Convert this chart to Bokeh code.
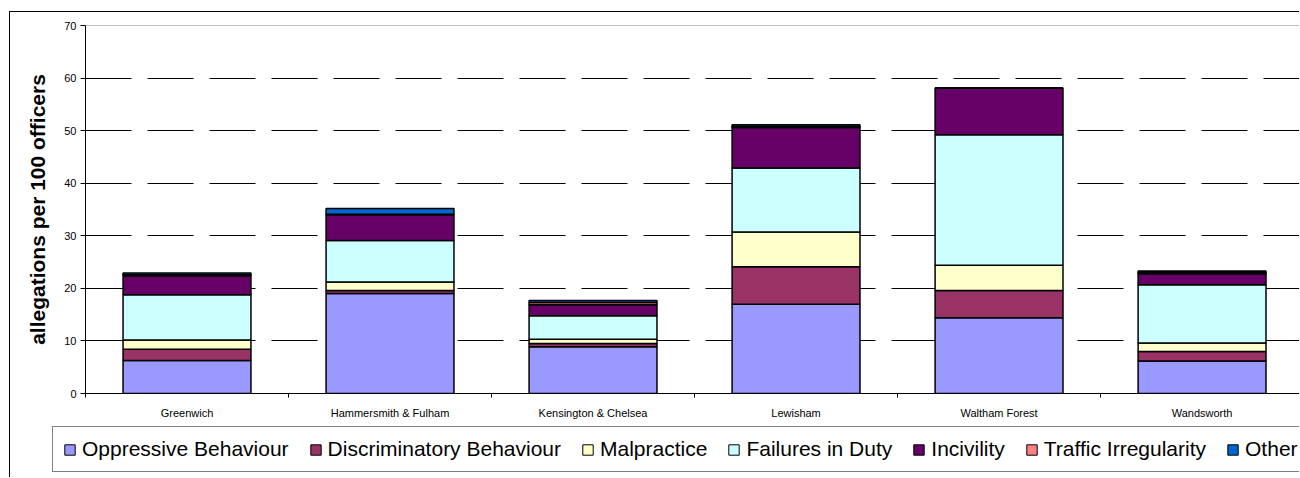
from bokeh.plotting import figure
from bokeh.layouts import column, row
from bokeh.models import (ColumnDataSource, Range1d, FixedTicker, Legend, LegendItem, Span)
from bokeh.embed import file_html
from bokeh.resources import INLINE

categories = ["Greenwich", "Hammersmith & Fulham", "Kensington & Chelsea",
              "Lewisham", "Waltham Forest", "Wandsworth"]
series = ["Oppressive Behaviour", "Discriminatory Behaviour", "Malpractice",
          "Failures in Duty", "Incivility", "Traffic Irregularity", "Other"]
oppressive = [6.3, 19.0, 8.9, 17.0, 14.4, 6.2]
discriminatory = [2.1, 0.6, 0.6, 7.1, 5.2, 1.8]
malpractice = [1.8, 1.6, 0.8, 6.6, 4.8, 1.6]
failures = [8.6, 7.9, 4.5, 12.2, 24.8, 11.1]
incivility = [3.6, 4.9, 2.1, 7.7, 8.9, 2.1]
traffic = [0.2, 0.1, 0.4, 0.2, 0.0, 0.2]
other = [0.3, 1.1, 0.4, 0.3, 0.0, 0.3]
colors = ["#9999FF", "#993366", "#FFFFCC", "#CCFFFF", "#660066", "#FF8080", "#0066CC"]
y_ticks = [0, 10, 20, 30, 40, 50, 60, 70]

FONT = "Liberation Sans"
n = len(categories)
centers = [i + 0.5 for i in range(n)]
bounds = [float(i) for i in range(n + 1)]

data = {"x": centers}
for name, vals in zip(series, [oppressive, discriminatory, malpractice, failures,
                               incivility, traffic, other]):
    data[name] = vals
source = ColumnDataSource(data)

W = 1289
p = figure(width=W, height=411, output_backend="svg", toolbar_location=None,
           x_range=Range1d(0, 5.98), y_range=Range1d(0, 70),
           min_border_left=75, min_border_top=13, min_border_bottom=30,
           min_border_right=0)
p.outline_line_color = None
p.background_fill_color = "white"
p.border_fill_color = "white"

p.vbar_stack(series, x="x", width=0.63, source=source, color=colors,
             line_color="black", line_width=1.5)

# grid
p.xgrid.visible = False
p.ygrid.ticker = FixedTicker(ticks=y_ticks[1:-1])
p.ygrid.grid_line_color = "black"
p.ygrid.grid_line_dash = "46 16"
p.ygrid.grid_line_width = 1
p.add_layout(Span(location=70, dimension="width", line_color="#808080", line_width=1))

# y axis
yax = p.yaxis[0]
yax.ticker = FixedTicker(ticks=y_ticks)
yax.axis_line_color = "black"
yax.major_tick_out = 5
yax.major_tick_in = 0
yax.minor_tick_line_color = None
yax.major_label_text_font = FONT
yax.major_label_text_font_size = "11px"
yax.major_label_text_color = "black"
yax.major_label_standoff = 4
yax.axis_label = "allegations per 100 officers"
yax.axis_label_text_font = FONT
yax.axis_label_text_font_size = "21px"
yax.axis_label_text_font_style = "bold"
yax.axis_label_text_color = "black"
yax.axis_label_standoff = 12

# x axis
xax = p.xaxis[0]
xax.ticker = FixedTicker(ticks=centers, minor_ticks=bounds)
xax.major_label_overrides = {c: cat for c, cat in zip(centers, categories)}
xax.axis_line_color = "black"
xax.major_tick_out = 0
xax.major_tick_in = 0
xax.minor_tick_out = 4
xax.minor_tick_in = 0
xax.minor_tick_line_color = "black"
xax.major_label_text_font = FONT
xax.major_label_text_font_size = "11px"
xax.major_label_text_color = "black"
xax.major_label_standoff = 9

# legend strip (separate figure so the legend box can sit left of the plot area)
pl = figure(width=W, height=54, output_backend="svg", toolbar_location=None,
            x_range=Range1d(0, 5.98), y_range=Range1d(1000, 1001),
            min_border_left=0, min_border_right=0, min_border_top=0, min_border_bottom=0,
            x_axis_location=None, y_axis_location=None)
pl.outline_line_color = None
pl.grid.visible = False
pl.background_fill_color = "white"
pl.border_fill_color = "white"
leg_renderers = pl.vbar_stack(series, x="x", width=0.63, source=source, color=colors,
                              line_color="black", line_width=1)

legend = Legend(items=[LegendItem(label=s, renderers=[r]) for s, r in zip(series, leg_renderers)],
                orientation="horizontal", location=(42, 5),
                label_text_font=FONT, label_text_font_size="21px",
                label_text_color="black",
                glyph_width=13, glyph_height=13, label_standoff=6, spacing=20,
                padding=10, margin=0, border_line_color="black", border_line_width=1,
                background_fill_color="white", background_fill_alpha=1)
pl.add_layout(legend, "center")

layout = column(p, row(pl, spacing=0), spacing=0)
layout.margin = (11, 0, 0, 9)
layout.styles = {"border-left": "1px solid black", "border-top": "1px solid black"}

open("out.html", "w").write(file_html(layout, INLINE))
